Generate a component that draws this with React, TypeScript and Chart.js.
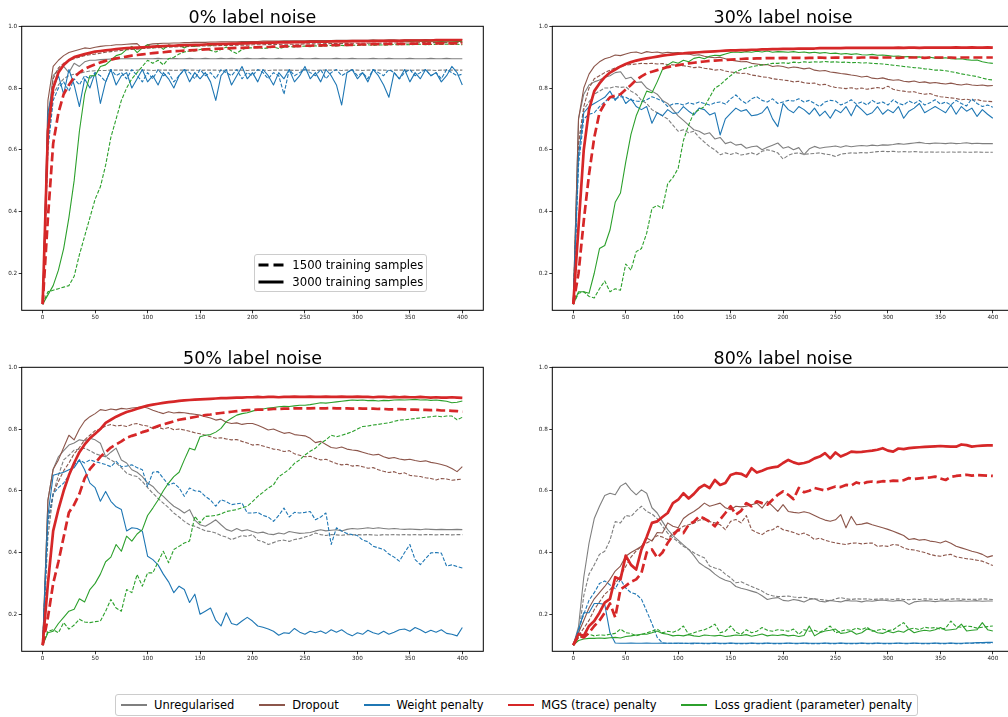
import React, { useEffect, useRef } from "react";
import { Chart, registerables } from "chart.js";

Chart.register(...registerables);

// ---------- labels ----------
const panelTitles = ["0% label noise", "30% label noise", "50% label noise", "80% label noise"];
const methodNames = ["Unregularised", "Dropout", "Weight penalty", "MGS (trace) penalty", "Loss gradient (parameter) penalty"];
const methodColors = ["#7f7f7f", "#8c564b", "#1f77b4", "#d62728", "#2ca02c"];
const sampleLabels = ["1500 training samples", "3000 training samples"];
const xTicks = [0, 50, 100, 150, 200, 250, 300, 350, 400];
const yTicks = [0.2, 0.4, 0.6, 0.8, 1.0];
const yTickLabels = ["0.2", "0.4", "0.6", "0.8", "1.0"];

const epochs = [
  0, 5, 10, 15, 20, 25, 30, 35, 40, 45,
  50, 55, 60, 65, 70, 75, 80, 85, 90, 95,
  100, 105, 110, 115, 120, 125, 130, 135, 140, 145,
  150, 155, 160, 165, 170, 175, 180, 185, 190, 195,
  200, 205, 210, 215, 220, 225, 230, 235, 240, 245,
  250, 255, 260, 265, 270, 275, 280, 285, 290, 295,
  300, 305, 310, 315, 320, 325, 330, 335, 340, 345,
  350, 355, 360, 365, 370, 375, 380, 385, 390, 395,
  400,
];

// ---------- 0% label noise ----------
const p0_unreg_3000 = [
  0.10, 0.70, 0.84, 0.86, 0.87, 0.85, 0.88, 0.87, 0.885, 0.89,
  0.89, 0.892, 0.893, 0.894, 0.894, 0.895, 0.895, 0.895, 0.895, 0.895,
  0.895, 0.895, 0.896, 0.895, 0.895, 0.896, 0.895, 0.895, 0.896, 0.895,
  0.895, 0.896, 0.895, 0.895, 0.896, 0.895, 0.896, 0.895, 0.895, 0.896,
  0.895, 0.895, 0.896, 0.895, 0.895, 0.896, 0.895, 0.895, 0.895, 0.896,
  0.895, 0.895, 0.896, 0.895, 0.895, 0.895, 0.896, 0.895, 0.895, 0.896,
  0.895, 0.895, 0.895, 0.896, 0.895, 0.895, 0.896, 0.895, 0.895, 0.895,
  0.896, 0.895, 0.895, 0.895, 0.896, 0.895, 0.895, 0.896, 0.895, 0.895,
  0.895,
];
const p0_unreg_1500 = [
  0.10, 0.62, 0.78, 0.81, 0.83, 0.84, 0.845, 0.848, 0.852, 0.855,
  0.856, 0.857, 0.857, 0.858, 0.858, 0.858, 0.858, 0.857, 0.858, 0.858,
  0.858, 0.857, 0.858, 0.858, 0.858, 0.857, 0.858, 0.858, 0.858, 0.858,
  0.857, 0.858, 0.858, 0.858, 0.857, 0.858, 0.858, 0.858, 0.858, 0.857,
  0.858, 0.858, 0.858, 0.857, 0.858, 0.858, 0.858, 0.858, 0.857, 0.858,
  0.858, 0.858, 0.857, 0.858, 0.858, 0.858, 0.858, 0.857, 0.858, 0.858,
  0.858, 0.857, 0.858, 0.858, 0.858, 0.858, 0.857, 0.858, 0.858, 0.858,
  0.857, 0.858, 0.858, 0.858, 0.858, 0.857, 0.858, 0.858, 0.858, 0.858,
  0.858,
];
const p0_drop_3000 = [
  0.10, 0.76, 0.87, 0.89, 0.905, 0.915, 0.92, 0.925, 0.93, 0.928,
  0.932, 0.935, 0.937, 0.938, 0.94, 0.94, 0.942, 0.943, 0.944, 0.928,
  0.94, 0.943, 0.944, 0.945, 0.945, 0.946, 0.946, 0.947, 0.947, 0.948,
  0.948, 0.948, 0.949, 0.949, 0.95, 0.95, 0.95, 0.95, 0.951, 0.951,
  0.951, 0.951, 0.952, 0.952, 0.952, 0.952, 0.953, 0.953, 0.953, 0.953,
  0.953, 0.954, 0.954, 0.954, 0.954, 0.954, 0.955, 0.955, 0.955, 0.955,
  0.955, 0.955, 0.955, 0.956, 0.955, 0.955, 0.956, 0.956, 0.955, 0.956,
  0.956, 0.956, 0.956, 0.957, 0.956, 0.956, 0.957, 0.956, 0.957, 0.957,
  0.957,
];
const p0_drop_1500 = [
  0.10, 0.68, 0.83, 0.865, 0.88, 0.89, 0.895, 0.90, 0.905, 0.908,
  0.91, 0.913, 0.916, 0.918, 0.92, 0.922, 0.924, 0.925, 0.926, 0.928,
  0.929, 0.93, 0.931, 0.932, 0.932, 0.933, 0.934, 0.934, 0.935, 0.935,
  0.936, 0.936, 0.937, 0.937, 0.938, 0.938, 0.938, 0.939, 0.939, 0.939,
  0.94, 0.94, 0.94, 0.941, 0.941, 0.941, 0.942, 0.942, 0.942, 0.942,
  0.943, 0.943, 0.943, 0.943, 0.944, 0.944, 0.944, 0.944, 0.944, 0.945,
  0.945, 0.945, 0.945, 0.945, 0.945, 0.946, 0.946, 0.946, 0.946, 0.946,
  0.946, 0.946, 0.947, 0.947, 0.947, 0.947, 0.947, 0.947, 0.947, 0.947,
  0.947,
];
const p0_wp_3000 = [
  0.10, 0.72, 0.80, 0.84, 0.78, 0.86, 0.81, 0.74, 0.83, 0.80,
  0.85, 0.75, 0.82, 0.86, 0.81, 0.84, 0.85, 0.80, 0.83, 0.86,
  0.82, 0.84, 0.81, 0.85, 0.83, 0.80, 0.84, 0.86, 0.82, 0.85,
  0.83, 0.85, 0.82, 0.76, 0.84, 0.86, 0.81, 0.84, 0.87, 0.83,
  0.85, 0.82, 0.86, 0.84, 0.81, 0.85, 0.83, 0.86, 0.82, 0.84,
  0.87, 0.83, 0.85, 0.82, 0.86, 0.84, 0.81, 0.745, 0.85, 0.86,
  0.83, 0.85, 0.82, 0.86, 0.84, 0.81, 0.77, 0.85, 0.83, 0.86,
  0.82, 0.85, 0.83, 0.86, 0.84, 0.85, 0.82, 0.84, 0.87, 0.85,
  0.81,
];
const p0_wp_1500 = [
  0.10, 0.60, 0.76, 0.80, 0.82, 0.79, 0.83, 0.81, 0.84, 0.83,
  0.85, 0.84, 0.82, 0.86, 0.84, 0.85, 0.83, 0.86, 0.84, 0.82,
  0.85, 0.83, 0.86, 0.84, 0.85, 0.82, 0.84, 0.86, 0.85, 0.83,
  0.86, 0.84, 0.85, 0.83, 0.86, 0.85, 0.84, 0.86, 0.83, 0.85,
  0.84, 0.86, 0.85, 0.83, 0.85, 0.84, 0.78, 0.86, 0.84, 0.85,
  0.86, 0.85, 0.84, 0.86, 0.83, 0.85, 0.86, 0.84, 0.85, 0.86,
  0.84, 0.85, 0.83, 0.86, 0.85, 0.84, 0.86, 0.85, 0.83, 0.85,
  0.86, 0.84, 0.85, 0.86, 0.84, 0.85, 0.83, 0.86, 0.85, 0.84,
  0.845,
];
const p0_mgs_3000 = [
  0.10, 0.66, 0.80, 0.85, 0.875, 0.89, 0.90, 0.905, 0.91, 0.914,
  0.918, 0.92, 0.922, 0.924, 0.926, 0.928, 0.929, 0.93, 0.931, 0.932,
  0.933, 0.934, 0.935, 0.936, 0.937, 0.937, 0.938, 0.939, 0.939, 0.94,
  0.94, 0.941, 0.942, 0.942, 0.943, 0.943, 0.944, 0.944, 0.945, 0.945,
  0.946, 0.946, 0.946, 0.947, 0.947, 0.948, 0.948, 0.948, 0.949, 0.949,
  0.949, 0.95, 0.95, 0.95, 0.95, 0.951, 0.951, 0.951, 0.951, 0.952,
  0.952, 0.952, 0.952, 0.952, 0.953, 0.953, 0.953, 0.953, 0.953, 0.954,
  0.954, 0.954, 0.954, 0.954, 0.954, 0.955, 0.955, 0.955, 0.955, 0.955,
  0.955,
];
const p0_mgs_1500 = [
  0.10, 0.38, 0.62, 0.72, 0.78, 0.81, 0.835, 0.85, 0.862, 0.87,
  0.877, 0.883, 0.888, 0.892, 0.896, 0.899, 0.902, 0.905, 0.907, 0.909,
  0.911, 0.913, 0.915, 0.916, 0.918, 0.919, 0.92, 0.921, 0.922, 0.923,
  0.924, 0.925, 0.926, 0.927, 0.928, 0.928, 0.929, 0.93, 0.93, 0.931,
  0.932, 0.932, 0.933, 0.933, 0.934, 0.934, 0.935, 0.935, 0.936, 0.936,
  0.937, 0.937, 0.938, 0.938, 0.938, 0.939, 0.939, 0.94, 0.94, 0.94,
  0.941, 0.941, 0.941, 0.942, 0.942, 0.942, 0.943, 0.943, 0.943, 0.943,
  0.944, 0.944, 0.944, 0.944, 0.944, 0.945, 0.945, 0.945, 0.945, 0.945,
  0.945,
];
const p0_lg_3000 = [
  0.10, 0.13, 0.16, 0.21, 0.28, 0.38, 0.50, 0.66, 0.78, 0.84,
  0.84, 0.87, 0.875, 0.89, 0.905, 0.91, 0.925, 0.935, 0.915, 0.93,
  0.94, 0.93, 0.94, 0.925, 0.94, 0.935, 0.94, 0.93, 0.94, 0.935,
  0.94, 0.942, 0.937, 0.943, 0.94, 0.944, 0.942, 0.945, 0.943, 0.946,
  0.945, 0.947, 0.946, 0.948, 0.947, 0.948, 0.949, 0.948, 0.95, 0.949,
  0.95, 0.95, 0.951, 0.95, 0.951, 0.95, 0.951, 0.951, 0.95, 0.951,
  0.951, 0.952, 0.951, 0.951, 0.952, 0.951, 0.952, 0.951, 0.952, 0.952,
  0.951, 0.952, 0.952, 0.951, 0.952, 0.952, 0.951, 0.952, 0.952, 0.951,
  0.951,
];
const p0_lg_1500 = [
  0.10, 0.14, 0.145, 0.15, 0.155, 0.16, 0.19, 0.26, 0.32, 0.38,
  0.44, 0.48, 0.55, 0.64, 0.70, 0.76, 0.80, 0.83, 0.85, 0.87,
  0.89, 0.88, 0.89, 0.875, 0.895, 0.90, 0.91, 0.917, 0.92, 0.92,
  0.925, 0.928, 0.922, 0.917, 0.925, 0.933, 0.92, 0.912, 0.925, 0.93,
  0.93, 0.932, 0.928, 0.93, 0.933, 0.928, 0.932, 0.935, 0.933, 0.935,
  0.936, 0.934, 0.937, 0.935, 0.937, 0.938, 0.936, 0.938, 0.937, 0.939,
  0.938, 0.939, 0.94, 0.938, 0.94, 0.939, 0.94, 0.941, 0.94, 0.941,
  0.94, 0.941, 0.942, 0.94, 0.941, 0.942, 0.941, 0.942, 0.941, 0.942,
  0.94,
];

// ---------- 30% label noise ----------
const p1_unreg_3000 = [
  0.10, 0.70, 0.78, 0.81, 0.82, 0.826, 0.835, 0.84, 0.85, 0.853,
  0.83, 0.835, 0.818, 0.82, 0.80, 0.79, 0.78, 0.76, 0.75, 0.73,
  0.71, 0.695, 0.68, 0.665, 0.66, 0.65, 0.655, 0.635, 0.64, 0.62,
  0.625, 0.615, 0.618, 0.605, 0.61, 0.612, 0.60, 0.608, 0.615, 0.622,
  0.605, 0.61, 0.60, 0.607, 0.584, 0.603, 0.611, 0.605, 0.608, 0.61,
  0.612, 0.608, 0.613, 0.61, 0.612, 0.614, 0.612, 0.615, 0.613, 0.616,
  0.615, 0.617, 0.62, 0.618, 0.62, 0.622, 0.624, 0.621, 0.62, 0.622,
  0.621, 0.62, 0.622, 0.62, 0.621, 0.623, 0.62, 0.621, 0.62, 0.62,
  0.62,
];
const p1_unreg_1500 = [
  0.10, 0.62, 0.73, 0.755, 0.78, 0.79, 0.80, 0.80, 0.805, 0.802,
  0.804, 0.79, 0.78, 0.76, 0.75, 0.73, 0.72, 0.71, 0.70, 0.68,
  0.66, 0.665, 0.655, 0.66, 0.64, 0.625, 0.61, 0.60, 0.584, 0.59,
  0.585, 0.59, 0.583, 0.586, 0.59, 0.584, 0.595, 0.60, 0.596, 0.59,
  0.57, 0.582, 0.588, 0.59, 0.585, 0.587, 0.588, 0.59, 0.586, 0.584,
  0.578, 0.586, 0.588, 0.59, 0.589, 0.591, 0.59, 0.592, 0.594, 0.595,
  0.594, 0.595, 0.593, 0.594, 0.593, 0.594, 0.593, 0.592, 0.593, 0.592,
  0.593, 0.592, 0.593, 0.592, 0.593, 0.592, 0.592, 0.593, 0.592, 0.592,
  0.592,
];
const p1_drop_3000 = [
  0.10, 0.70, 0.80, 0.845, 0.87, 0.885, 0.895, 0.90, 0.907, 0.905,
  0.91, 0.915, 0.917, 0.912, 0.918, 0.915, 0.917, 0.913, 0.916, 0.914,
  0.915, 0.912, 0.91, 0.906, 0.908, 0.903, 0.90, 0.898, 0.90, 0.895,
  0.89, 0.888, 0.885, 0.886, 0.88, 0.878, 0.875, 0.876, 0.87, 0.872,
  0.87, 0.865, 0.868, 0.866, 0.862, 0.865, 0.858, 0.855, 0.857, 0.852,
  0.85, 0.847, 0.845, 0.842, 0.84, 0.836, 0.838, 0.832, 0.83, 0.833,
  0.828, 0.825, 0.827, 0.822, 0.82, 0.823, 0.818, 0.82, 0.816, 0.818,
  0.815, 0.813, 0.816, 0.812, 0.81, 0.813, 0.81, 0.808, 0.81, 0.807,
  0.808,
];
const p1_drop_1500 = [
  0.10, 0.62, 0.74, 0.80, 0.83, 0.84, 0.85, 0.858, 0.865, 0.87,
  0.874, 0.876, 0.878, 0.88, 0.879, 0.88, 0.878, 0.879, 0.876, 0.875,
  0.874, 0.872, 0.87, 0.866, 0.868, 0.864, 0.862, 0.858, 0.86, 0.855,
  0.852, 0.85, 0.847, 0.848, 0.842, 0.84, 0.836, 0.835, 0.83, 0.828,
  0.826, 0.824, 0.82, 0.822, 0.817, 0.815, 0.816, 0.81, 0.812, 0.806,
  0.802, 0.80, 0.798, 0.801, 0.797, 0.80, 0.796, 0.799, 0.802, 0.798,
  0.806, 0.796, 0.792, 0.79, 0.787, 0.788, 0.783, 0.78, 0.782, 0.776,
  0.772, 0.77, 0.768, 0.766, 0.762, 0.764, 0.76, 0.763, 0.758, 0.757,
  0.756,
];
const p1_wp_3000 = [
  0.10, 0.58, 0.72, 0.74, 0.75, 0.76, 0.77, 0.79, 0.76, 0.783,
  0.75, 0.765, 0.74, 0.73, 0.74, 0.686, 0.72, 0.71, 0.73, 0.718,
  0.72, 0.74, 0.725, 0.713, 0.735, 0.73, 0.713, 0.72, 0.648, 0.70,
  0.718, 0.735, 0.725, 0.73, 0.71, 0.713, 0.72, 0.74, 0.70, 0.675,
  0.75, 0.73, 0.72, 0.74, 0.73, 0.715, 0.735, 0.71, 0.725, 0.702,
  0.73, 0.72, 0.74, 0.71, 0.745, 0.73, 0.713, 0.72, 0.74, 0.715,
  0.73, 0.72, 0.74, 0.702, 0.725, 0.735, 0.75, 0.72, 0.73, 0.74,
  0.73, 0.72, 0.745, 0.715, 0.74, 0.725, 0.735, 0.708, 0.73, 0.715,
  0.702,
];
const p1_wp_1500 = [
  0.10, 0.55, 0.70, 0.715, 0.72, 0.74, 0.755, 0.77, 0.765, 0.772,
  0.77, 0.761, 0.758, 0.756, 0.762, 0.772, 0.765, 0.758, 0.74, 0.748,
  0.75, 0.745, 0.752, 0.748, 0.755, 0.75, 0.745, 0.752, 0.755, 0.748,
  0.765, 0.778, 0.76, 0.75, 0.765, 0.772, 0.76, 0.755, 0.765, 0.75,
  0.755, 0.76, 0.758, 0.765, 0.755, 0.76, 0.75, 0.74, 0.755, 0.76,
  0.758, 0.745, 0.752, 0.762, 0.748, 0.755, 0.745, 0.76, 0.75, 0.755,
  0.745, 0.762, 0.75, 0.745, 0.758, 0.75, 0.76, 0.745, 0.752, 0.762,
  0.748, 0.755, 0.745, 0.76, 0.75, 0.742, 0.765, 0.75, 0.74, 0.745,
  0.738,
];
const p1_mgs_3000 = [
  0.10, 0.35, 0.60, 0.73, 0.79, 0.815, 0.835, 0.85, 0.86, 0.87,
  0.878, 0.884, 0.889, 0.893, 0.896, 0.899, 0.902, 0.905, 0.907, 0.909,
  0.911, 0.912, 0.914, 0.915, 0.916, 0.917, 0.918, 0.919, 0.92, 0.921,
  0.922, 0.922, 0.923, 0.923, 0.924, 0.924, 0.925, 0.925, 0.926, 0.926,
  0.927, 0.927, 0.927, 0.928, 0.928, 0.928, 0.928, 0.929, 0.929, 0.929,
  0.929, 0.929, 0.93, 0.93, 0.93, 0.93, 0.93, 0.93, 0.93, 0.93,
  0.93, 0.93, 0.931, 0.93, 0.931, 0.931, 0.93, 0.931, 0.931, 0.931,
  0.931, 0.931, 0.931, 0.932, 0.931, 0.931, 0.932, 0.931, 0.931, 0.932,
  0.931,
];
const p1_mgs_1500 = [
  0.10, 0.20, 0.37, 0.52, 0.64, 0.72, 0.75, 0.77, 0.775, 0.78,
  0.795, 0.81, 0.826, 0.838, 0.848, 0.853, 0.858, 0.863, 0.868, 0.871,
  0.874, 0.877, 0.88, 0.882, 0.884, 0.886, 0.888, 0.889, 0.89, 0.891,
  0.892, 0.893, 0.894, 0.895, 0.895, 0.896, 0.896, 0.897, 0.897, 0.897,
  0.898, 0.897, 0.898, 0.898, 0.897, 0.898, 0.898, 0.899, 0.898, 0.898,
  0.899, 0.898, 0.899, 0.899, 0.898, 0.899, 0.899, 0.899, 0.898, 0.899,
  0.899, 0.899, 0.898, 0.899, 0.899, 0.899, 0.899, 0.898, 0.899, 0.899,
  0.899, 0.899, 0.899, 0.898, 0.899, 0.899, 0.899, 0.899, 0.899, 0.899,
  0.899,
];
const p1_lg_3000 = [
  0.10, 0.14, 0.14, 0.135, 0.20, 0.28, 0.29, 0.34, 0.43, 0.46,
  0.56, 0.65, 0.71, 0.75, 0.79, 0.785, 0.82, 0.86, 0.875, 0.885,
  0.88, 0.89, 0.885, 0.896, 0.90, 0.895, 0.903, 0.906, 0.905, 0.91,
  0.915, 0.917, 0.915, 0.918, 0.916, 0.919, 0.917, 0.92, 0.916, 0.918,
  0.917, 0.916, 0.918, 0.915, 0.917, 0.914, 0.916, 0.913, 0.915, 0.912,
  0.913, 0.91, 0.912, 0.909, 0.911, 0.908, 0.907, 0.909, 0.906, 0.907,
  0.905, 0.903, 0.904, 0.901, 0.902, 0.90, 0.901, 0.898, 0.90, 0.897,
  0.896, 0.898, 0.895, 0.894, 0.895, 0.892, 0.89, 0.891, 0.885, 0.882,
  0.88,
];
const p1_lg_1500 = [
  0.10, 0.135, 0.14, 0.125, 0.12, 0.15, 0.175, 0.14, 0.15, 0.145,
  0.23, 0.21, 0.27, 0.28, 0.33, 0.41, 0.42, 0.41, 0.49, 0.51,
  0.54, 0.63, 0.68, 0.72, 0.73, 0.74, 0.77, 0.80, 0.81, 0.826,
  0.84, 0.853, 0.86, 0.865, 0.869, 0.872, 0.875, 0.877, 0.88, 0.88,
  0.882, 0.88, 0.884, 0.882, 0.885, 0.883, 0.885, 0.884, 0.886, 0.884,
  0.885, 0.883, 0.884, 0.882, 0.883, 0.881, 0.882, 0.88, 0.879, 0.878,
  0.876, 0.874, 0.872, 0.87, 0.868, 0.866, 0.865, 0.862, 0.861, 0.858,
  0.858, 0.856, 0.853, 0.85, 0.846, 0.843, 0.84, 0.837, 0.832, 0.828,
  0.826,
];

// ---------- 50% label noise ----------
const p2_unreg_3000 = [
  0.10, 0.57, 0.67, 0.71, 0.73, 0.748, 0.755, 0.765, 0.762, 0.77,
  0.765, 0.754, 0.71, 0.725, 0.738, 0.70, 0.69, 0.668, 0.66, 0.646,
  0.625, 0.614, 0.595, 0.582, 0.565, 0.55, 0.54, 0.528, 0.539, 0.505,
  0.49, 0.485, 0.495, 0.506, 0.49, 0.475, 0.469, 0.478, 0.47, 0.474,
  0.468, 0.463, 0.466, 0.46, 0.458, 0.463, 0.46, 0.468, 0.465, 0.462,
  0.463, 0.465, 0.47, 0.474, 0.47, 0.472, 0.474, 0.47, 0.475, 0.478,
  0.476, 0.478, 0.48, 0.478, 0.48, 0.478, 0.476, 0.478, 0.476, 0.475,
  0.476, 0.475, 0.474, 0.476, 0.475, 0.474, 0.475, 0.474, 0.474, 0.475,
  0.474,
];
const p2_unreg_1500 = [
  0.10, 0.45, 0.59, 0.65, 0.70, 0.715, 0.732, 0.735, 0.738, 0.73,
  0.72, 0.715, 0.71, 0.70, 0.69, 0.675, 0.657, 0.65, 0.646, 0.63,
  0.61, 0.592, 0.575, 0.56, 0.545, 0.528, 0.515, 0.501, 0.49, 0.485,
  0.478, 0.47, 0.468, 0.463, 0.455, 0.45, 0.442, 0.448, 0.455, 0.452,
  0.458, 0.44, 0.435, 0.426, 0.432, 0.438, 0.44, 0.436, 0.442, 0.445,
  0.45, 0.455, 0.463, 0.458, 0.455, 0.458, 0.457, 0.456, 0.458, 0.457,
  0.458, 0.457, 0.458, 0.457, 0.456, 0.458, 0.457, 0.458, 0.457, 0.458,
  0.457, 0.458, 0.457, 0.458, 0.458, 0.457, 0.458, 0.458, 0.457, 0.458,
  0.458,
];
const p2_drop_3000 = [
  0.10, 0.57, 0.67, 0.70, 0.74, 0.78, 0.765, 0.80, 0.826, 0.84,
  0.85, 0.863, 0.86, 0.865, 0.862, 0.867, 0.865, 0.868, 0.87, 0.872,
  0.868, 0.861, 0.855, 0.85, 0.856, 0.852, 0.854, 0.853, 0.85, 0.848,
  0.845, 0.84, 0.836, 0.829, 0.832, 0.822, 0.818, 0.82, 0.815, 0.818,
  0.818, 0.812, 0.805, 0.797, 0.80, 0.793, 0.786, 0.789, 0.782, 0.78,
  0.778, 0.77, 0.756, 0.76, 0.75, 0.74, 0.738, 0.742, 0.735, 0.732,
  0.73, 0.725, 0.72, 0.716, 0.718, 0.71, 0.705, 0.708, 0.703, 0.70,
  0.702, 0.698, 0.695, 0.697, 0.692, 0.689, 0.685, 0.68, 0.672, 0.662,
  0.678,
];
const p2_drop_1500 = [
  0.10, 0.50, 0.59, 0.63, 0.665, 0.69, 0.72, 0.74, 0.765, 0.78,
  0.795, 0.80, 0.81, 0.815, 0.81, 0.812, 0.808, 0.815, 0.818, 0.812,
  0.81, 0.802, 0.806, 0.80, 0.805, 0.798, 0.80, 0.797, 0.793, 0.788,
  0.785, 0.78, 0.775, 0.77, 0.772, 0.768, 0.765, 0.766, 0.76, 0.755,
  0.748, 0.75, 0.745, 0.74, 0.735, 0.733, 0.727, 0.73, 0.72, 0.715,
  0.71, 0.712, 0.705, 0.70, 0.702, 0.695, 0.688, 0.684, 0.686, 0.68,
  0.682, 0.678, 0.673, 0.675, 0.668, 0.663, 0.659, 0.662, 0.655, 0.658,
  0.65, 0.648, 0.646, 0.642, 0.64, 0.635, 0.64, 0.638, 0.634, 0.636,
  0.638,
];
const p2_wp_3000 = [
  0.10, 0.52, 0.65, 0.655, 0.66, 0.668, 0.675, 0.70, 0.668, 0.625,
  0.61, 0.566, 0.598, 0.566, 0.548, 0.539, 0.47, 0.48, 0.478, 0.469,
  0.388, 0.377, 0.36, 0.33, 0.305, 0.27, 0.291, 0.28, 0.238, 0.265,
  0.20, 0.21, 0.22, 0.18, 0.162, 0.205, 0.17, 0.165, 0.178, 0.19,
  0.178, 0.162, 0.158, 0.152, 0.145, 0.132, 0.14, 0.138, 0.154, 0.142,
  0.135, 0.145, 0.14, 0.146, 0.138, 0.15, 0.142, 0.15, 0.138, 0.13,
  0.14, 0.135, 0.148, 0.14, 0.135, 0.145, 0.135, 0.142, 0.15, 0.152,
  0.145, 0.157, 0.15, 0.14, 0.148, 0.142, 0.15, 0.138, 0.135, 0.13,
  0.157,
];
const p2_wp_1500 = [
  0.10, 0.50, 0.59, 0.61, 0.625, 0.65, 0.684, 0.70, 0.69, 0.70,
  0.695, 0.69, 0.685, 0.678, 0.695, 0.678, 0.68, 0.684, 0.675, 0.668,
  0.614, 0.66, 0.662, 0.64, 0.619, 0.625, 0.61, 0.582, 0.609, 0.60,
  0.598, 0.582, 0.57, 0.55, 0.571, 0.565, 0.555, 0.558, 0.56, 0.528,
  0.528, 0.53, 0.52, 0.515, 0.501, 0.52, 0.544, 0.515, 0.53, 0.528,
  0.53, 0.533, 0.506, 0.515, 0.528, 0.426, 0.48, 0.47, 0.462, 0.458,
  0.455, 0.44, 0.435, 0.42, 0.415, 0.41, 0.395, 0.385, 0.372, 0.40,
  0.426, 0.377, 0.361, 0.38, 0.399, 0.40, 0.398, 0.356, 0.36, 0.355,
  0.35,
];
const p2_mgs_3000 = [
  0.10, 0.30, 0.47, 0.54, 0.60, 0.65, 0.69, 0.725, 0.75, 0.77,
  0.785, 0.80, 0.82, 0.83, 0.84, 0.848, 0.855, 0.86, 0.866, 0.871,
  0.876, 0.879, 0.882, 0.885, 0.887, 0.889, 0.891, 0.893, 0.894, 0.895,
  0.896, 0.897, 0.898, 0.899, 0.90, 0.90, 0.901, 0.902, 0.902, 0.903,
  0.903, 0.904, 0.903, 0.904, 0.904, 0.903, 0.904, 0.904, 0.905, 0.904,
  0.904, 0.905, 0.904, 0.904, 0.905, 0.904, 0.904, 0.905, 0.904, 0.904,
  0.905, 0.904, 0.904, 0.903, 0.904, 0.904, 0.903, 0.904, 0.903, 0.904,
  0.903, 0.903, 0.904, 0.903, 0.902, 0.903, 0.902, 0.902, 0.903, 0.902,
  0.901,
];
const p2_mgs_1500 = [
  0.10, 0.19, 0.30, 0.37, 0.45, 0.53, 0.555, 0.59, 0.64, 0.67,
  0.69, 0.71, 0.725, 0.74, 0.75, 0.76, 0.772, 0.778, 0.783, 0.79,
  0.795, 0.803, 0.81, 0.815, 0.82, 0.825, 0.83, 0.833, 0.836, 0.839,
  0.842, 0.845, 0.847, 0.85, 0.852, 0.854, 0.856, 0.858, 0.86, 0.861,
  0.862, 0.863, 0.863, 0.864, 0.865, 0.865, 0.866, 0.866, 0.867, 0.867,
  0.867, 0.867, 0.868, 0.867, 0.867, 0.868, 0.867, 0.867, 0.867, 0.866,
  0.867, 0.866, 0.866, 0.866, 0.865, 0.865, 0.864, 0.864, 0.865, 0.864,
  0.863, 0.863, 0.862, 0.862, 0.861, 0.862, 0.86, 0.86, 0.859, 0.858,
  0.856,
];
const p2_lg_3000 = [
  0.10, 0.14, 0.145, 0.17, 0.19, 0.21, 0.216, 0.25, 0.24, 0.28,
  0.30, 0.33, 0.37, 0.385, 0.426, 0.404, 0.453, 0.437, 0.46, 0.474,
  0.52, 0.544, 0.57, 0.60, 0.625, 0.646, 0.66, 0.70, 0.738, 0.732,
  0.775, 0.78, 0.782, 0.79, 0.802, 0.824, 0.835, 0.845, 0.85, 0.853,
  0.858, 0.863, 0.865, 0.868, 0.87, 0.872, 0.874, 0.873, 0.875, 0.877,
  0.877, 0.879, 0.882, 0.885, 0.884, 0.886, 0.888, 0.89, 0.892, 0.894,
  0.893, 0.894, 0.892, 0.893, 0.891, 0.893, 0.892, 0.894, 0.895, 0.894,
  0.895, 0.896, 0.894, 0.895, 0.893, 0.894, 0.892, 0.89, 0.885, 0.887,
  0.891,
];
const p2_lg_1500 = [
  0.10, 0.145, 0.15, 0.14, 0.173, 0.152, 0.165, 0.184, 0.175, 0.173,
  0.176, 0.178, 0.21, 0.248, 0.22, 0.21, 0.28, 0.27, 0.329, 0.291,
  0.334, 0.334, 0.37, 0.404, 0.367, 0.41, 0.42, 0.431, 0.437, 0.517,
  0.496, 0.517, 0.518, 0.52, 0.525, 0.533, 0.536, 0.539, 0.545, 0.55,
  0.565, 0.582, 0.595, 0.609, 0.619, 0.646, 0.657, 0.67, 0.689, 0.70,
  0.716, 0.728, 0.738, 0.754, 0.765, 0.78, 0.775, 0.78, 0.785, 0.791,
  0.80, 0.808, 0.81, 0.813, 0.815, 0.818, 0.82, 0.825, 0.829, 0.83,
  0.832, 0.834, 0.836, 0.838, 0.84, 0.842, 0.84, 0.842, 0.842, 0.83,
  0.838,
];

// ---------- 80% label noise ----------
const p3_unreg_3000 = [
  0.10, 0.16, 0.32, 0.43, 0.51, 0.55, 0.585, 0.592, 0.587, 0.615,
  0.625, 0.603, 0.587, 0.603, 0.592, 0.545, 0.528, 0.50, 0.474, 0.455,
  0.44, 0.425, 0.41, 0.39, 0.367, 0.355, 0.345, 0.33, 0.318, 0.31,
  0.305, 0.29, 0.284, 0.28, 0.275, 0.27, 0.26, 0.248, 0.252, 0.254,
  0.245, 0.243, 0.248, 0.245, 0.24, 0.248, 0.25, 0.242, 0.24, 0.245,
  0.242, 0.24, 0.245, 0.243, 0.243, 0.24, 0.244, 0.242, 0.245, 0.246,
  0.244, 0.242, 0.245, 0.243, 0.232, 0.24, 0.242, 0.244, 0.243, 0.241,
  0.243, 0.244, 0.242, 0.243, 0.244, 0.242, 0.243, 0.244, 0.242, 0.243,
  0.243,
];
const p3_unreg_1500 = [
  0.10, 0.13, 0.26, 0.33, 0.36, 0.394, 0.404, 0.44, 0.50, 0.496,
  0.52, 0.517, 0.535, 0.55, 0.533, 0.525, 0.51, 0.485, 0.463, 0.447,
  0.435, 0.42, 0.41, 0.399, 0.39, 0.383, 0.356, 0.35, 0.345, 0.33,
  0.318, 0.302, 0.305, 0.297, 0.29, 0.283, 0.275, 0.265, 0.26, 0.257,
  0.258, 0.259, 0.256, 0.254, 0.255, 0.252, 0.25, 0.248, 0.246, 0.243,
  0.25, 0.254, 0.25, 0.248, 0.25, 0.249, 0.25, 0.248, 0.249, 0.25,
  0.249, 0.248, 0.25, 0.248, 0.247, 0.249, 0.248, 0.25, 0.249, 0.248,
  0.249, 0.248, 0.249, 0.25, 0.249, 0.248, 0.249, 0.248, 0.25, 0.249,
  0.248,
];
const p3_drop_3000 = [
  0.10, 0.14, 0.18, 0.22, 0.25, 0.27, 0.29, 0.313, 0.34, 0.356,
  0.388, 0.40, 0.41, 0.42, 0.447, 0.437, 0.465, 0.463, 0.496, 0.485,
  0.48, 0.51, 0.523, 0.533, 0.545, 0.56, 0.55, 0.555, 0.56, 0.545,
  0.539, 0.55, 0.548, 0.55, 0.555, 0.56, 0.544, 0.566, 0.55, 0.533,
  0.555, 0.533, 0.53, 0.528, 0.532, 0.528, 0.52, 0.512, 0.505, 0.501,
  0.506, 0.523, 0.48, 0.517, 0.49, 0.492, 0.496, 0.49, 0.485, 0.48,
  0.475, 0.469, 0.462, 0.455, 0.442, 0.445, 0.44, 0.442, 0.437, 0.435,
  0.431, 0.437, 0.43, 0.42, 0.415, 0.41, 0.404, 0.40, 0.394, 0.385,
  0.39,
];
const p3_drop_1500 = [
  0.10, 0.13, 0.155, 0.18, 0.215, 0.24, 0.265, 0.28, 0.30, 0.324,
  0.355, 0.385, 0.405, 0.42, 0.431, 0.44, 0.455, 0.45, 0.442, 0.463,
  0.474, 0.485, 0.49, 0.495, 0.505, 0.507, 0.50, 0.496, 0.49, 0.474,
  0.501, 0.507, 0.496, 0.52, 0.474, 0.465, 0.458, 0.47, 0.474, 0.485,
  0.474, 0.47, 0.465, 0.458, 0.463, 0.455, 0.442, 0.447, 0.44, 0.435,
  0.431, 0.428, 0.426, 0.43, 0.431, 0.428, 0.43, 0.431, 0.42, 0.422,
  0.42, 0.426, 0.424, 0.415, 0.41, 0.408, 0.404, 0.40, 0.394, 0.39,
  0.388, 0.392, 0.394, 0.386, 0.383, 0.38, 0.378, 0.375, 0.372, 0.365,
  0.358,
];
const p3_wp_3000 = [
  0.10, 0.15, 0.205, 0.205, 0.235, 0.235, 0.232, 0.14, 0.107, 0.106,
  0.106, 0.107, 0.106, 0.106, 0.107, 0.106, 0.106, 0.107, 0.106, 0.106,
  0.107, 0.106, 0.106, 0.107, 0.106, 0.106, 0.106, 0.107, 0.106, 0.106,
  0.107, 0.106, 0.106, 0.106, 0.107, 0.106, 0.106, 0.107, 0.106, 0.106,
  0.106, 0.107, 0.106, 0.106, 0.107, 0.106, 0.106, 0.106, 0.107, 0.106,
  0.106, 0.107, 0.106, 0.106, 0.106, 0.107, 0.106, 0.106, 0.107, 0.106,
  0.106, 0.106, 0.107, 0.106, 0.106, 0.107, 0.106, 0.106, 0.106, 0.107,
  0.106, 0.106, 0.107, 0.106, 0.106, 0.107, 0.107, 0.108, 0.108, 0.109,
  0.109,
];
const p3_wp_1500 = [
  0.10, 0.15, 0.20, 0.245, 0.27, 0.30, 0.308, 0.295, 0.283, 0.313,
  0.285, 0.27, 0.265, 0.249, 0.21, 0.17, 0.125, 0.107, 0.106, 0.106,
  0.105, 0.106, 0.105, 0.105, 0.106, 0.105, 0.105, 0.106, 0.105, 0.105,
  0.106, 0.105, 0.105, 0.105, 0.106, 0.105, 0.105, 0.106, 0.105, 0.105,
  0.105, 0.106, 0.105, 0.105, 0.106, 0.105, 0.105, 0.105, 0.106, 0.105,
  0.105, 0.106, 0.105, 0.105, 0.105, 0.106, 0.105, 0.105, 0.106, 0.105,
  0.105, 0.105, 0.106, 0.105, 0.105, 0.106, 0.105, 0.105, 0.105, 0.106,
  0.105, 0.105, 0.106, 0.105, 0.105, 0.106, 0.106, 0.107, 0.107, 0.107,
  0.107,
];
const p3_mgs_3000 = [
  0.10, 0.136, 0.13, 0.162, 0.178, 0.205, 0.238, 0.25, 0.32, 0.313,
  0.39, 0.36, 0.345, 0.41, 0.45, 0.496, 0.501, 0.515, 0.528, 0.56,
  0.571, 0.592, 0.575, 0.59, 0.609, 0.619, 0.609, 0.635, 0.619, 0.625,
  0.651, 0.657, 0.655, 0.646, 0.673, 0.659, 0.665, 0.672, 0.676, 0.678,
  0.69, 0.70, 0.692, 0.687, 0.69, 0.695, 0.705, 0.711, 0.722, 0.705,
  0.724, 0.711, 0.718, 0.727, 0.725, 0.726, 0.728, 0.73, 0.733, 0.738,
  0.73, 0.727, 0.737, 0.735, 0.738, 0.74, 0.741, 0.742, 0.743, 0.744,
  0.745, 0.744, 0.743, 0.743, 0.75, 0.748, 0.743, 0.745, 0.746, 0.747,
  0.747,
];
const p3_mgs_1500 = [
  0.10, 0.13, 0.125, 0.14, 0.162, 0.18, 0.205, 0.235, 0.19, 0.281,
  0.292, 0.305, 0.313, 0.334, 0.40, 0.41, 0.383, 0.40, 0.431, 0.455,
  0.474, 0.463, 0.49, 0.50, 0.517, 0.51, 0.50, 0.485, 0.507, 0.528,
  0.55, 0.523, 0.535, 0.56, 0.55, 0.566, 0.56, 0.555, 0.571, 0.587,
  0.598, 0.587, 0.573, 0.609, 0.595, 0.60, 0.609, 0.605, 0.601, 0.608,
  0.614, 0.612, 0.619, 0.617, 0.627, 0.622, 0.628, 0.63, 0.628, 0.631,
  0.63, 0.633, 0.632, 0.634, 0.641, 0.638, 0.64, 0.642, 0.643, 0.646,
  0.64, 0.635, 0.645, 0.648, 0.65, 0.652, 0.649, 0.651, 0.65, 0.649,
  0.648,
];
const p3_lg_3000 = [
  0.10, 0.115, 0.12, 0.122, 0.122, 0.123, 0.122, 0.124, 0.125, 0.123,
  0.128, 0.13, 0.133, 0.135, 0.135, 0.14, 0.146, 0.138, 0.135, 0.13,
  0.132, 0.13, 0.134, 0.13, 0.128, 0.133, 0.131, 0.13, 0.132, 0.128,
  0.13, 0.133, 0.131, 0.134, 0.129, 0.132, 0.136, 0.13, 0.133, 0.131,
  0.134, 0.13, 0.132, 0.128, 0.131, 0.162, 0.13, 0.14, 0.146, 0.148,
  0.152, 0.138, 0.14, 0.146, 0.135, 0.14, 0.152, 0.148, 0.14, 0.138,
  0.145, 0.14, 0.146, 0.142, 0.152, 0.14, 0.145, 0.148, 0.146, 0.15,
  0.157, 0.148, 0.15, 0.152, 0.168, 0.146, 0.148, 0.15, 0.173, 0.15,
  0.146,
];
const p3_lg_1500 = [
  0.10, 0.125, 0.13, 0.135, 0.13, 0.133, 0.132, 0.135, 0.138, 0.152,
  0.14, 0.138, 0.13, 0.135, 0.14, 0.145, 0.152, 0.14, 0.145, 0.142,
  0.148, 0.162, 0.135, 0.14, 0.146, 0.15, 0.157, 0.168, 0.14, 0.145,
  0.162, 0.142, 0.135, 0.15, 0.14, 0.145, 0.157, 0.148, 0.145, 0.15,
  0.148, 0.145, 0.152, 0.135, 0.15, 0.145, 0.148, 0.142, 0.15, 0.162,
  0.14, 0.145, 0.15, 0.148, 0.155, 0.15, 0.158, 0.145, 0.148, 0.152,
  0.147, 0.15, 0.162, 0.173, 0.152, 0.155, 0.15, 0.158, 0.155, 0.157,
  0.152, 0.155, 0.178, 0.16, 0.158, 0.162, 0.16, 0.155, 0.158, 0.16,
  0.162,
];

// per panel, per method (legend order): [1500 samples, 3000 samples]
const panelData = [
  [[p0_unreg_1500, p0_unreg_3000], [p0_drop_1500, p0_drop_3000], [p0_wp_1500, p0_wp_3000], [p0_mgs_1500, p0_mgs_3000], [p0_lg_1500, p0_lg_3000]],
  [[p1_unreg_1500, p1_unreg_3000], [p1_drop_1500, p1_drop_3000], [p1_wp_1500, p1_wp_3000], [p1_mgs_1500, p1_mgs_3000], [p1_lg_1500, p1_lg_3000]],
  [[p2_unreg_1500, p2_unreg_3000], [p2_drop_1500, p2_drop_3000], [p2_wp_1500, p2_wp_3000], [p2_mgs_1500, p2_mgs_3000], [p2_lg_1500, p2_lg_3000]],
  [[p3_unreg_1500, p3_unreg_3000], [p3_drop_1500, p3_drop_3000], [p3_wp_1500, p3_wp_3000], [p3_mgs_1500, p3_mgs_3000], [p3_lg_1500, p3_lg_3000]],
];

// ---------- layout ----------
const FONT = "'DejaVu Sans', 'Liberation Sans', sans-serif";
const CANVAS_H = 340;
const AREA_TOP = 26.3;
const AREA_BOTTOM = 310.3;
const panelLayout = [
  { left: 0, top: 0, width: 504, axisW: 21.7, areaRight: 483.3 },
  { left: 530, top: 0, width: 500, axisW: 22.3, areaRight: 483.8 },
  { left: 0, top: 340.7, width: 504, axisW: 21.7, areaRight: 483.3 },
  { left: 530, top: 340.7, width: 500, axisW: 22.3, areaRight: 483.8 },
];
// draw order: later entries drawn on top
const drawOrder = [0, 1, 2, 4, 3];

const framePlugin = {
  id: "panelFrame",
  afterDraw(chart: any, _args: any, opts: any) {
    const { ctx, chartArea } = chart;
    ctx.save();
    ctx.strokeStyle = "#000";
    ctx.lineWidth = 1;
    ctx.strokeRect(chartArea.left, chartArea.top, chartArea.right - chartArea.left, chartArea.bottom - chartArea.top);
    ctx.fillStyle = "#000";
    ctx.font = `17.5px ${FONT}`;
    ctx.textAlign = "center";
    ctx.textBaseline = "alphabetic";
    ctx.fillText(opts.text, (chartArea.left + chartArea.right) / 2, chartArea.top - 3);
    ctx.restore();
  },
};

function Panel({ index }: { index: number }) {
  const ref = useRef<HTMLCanvasElement | null>(null);
  const lay = panelLayout[index];
  useEffect(() => {
    if (!ref.current) return;
    const datasets: any[] = [];
    drawOrder.forEach((m, k) => {
      [0, 1].forEach((s) => {
        const isMgs = m === 3;
        const w = isMgs ? 2.7 : 1.1;
        const vals = panelData[index][m][s];
        datasets.push({
          label: `${methodNames[m]} ${sampleLabels[s]}`,
          data: epochs.map((e, i) => ({ x: e, y: vals[i] })),
          borderColor: methodColors[m],
          borderWidth: w,
          borderDash: s === 0 ? (isMgs ? [9, 4] : [3.8, 1.7]) : [],
          borderJoinStyle: "round",
          borderCapStyle: "butt",
          pointRadius: 0,
          fill: false,
          tension: 0,
          order: 100 - (k * 2 + s),
        });
      });
    });
    const tickFont = { family: FONT, size: 5.7 };
    const chart = new Chart(ref.current, {
      type: "line",
      data: { datasets },
      options: {
        responsive: false,
        animation: false,
        events: [],
        layout: { padding: { top: AREA_TOP, right: lay.width - lay.areaRight, left: 0, bottom: 0 } },
        plugins: {
          legend: { display: false },
          tooltip: { enabled: false },
          title: { display: false },
          panelFrame: { text: panelTitles[index] },
        } as any,
        scales: {
          x: {
            type: "linear",
            min: -20,
            max: 420,
            afterBuildTicks: (axis: any) => {
              axis.ticks = xTicks.map((v) => ({ value: v }));
            },
            afterFit: (scale: any) => {
              scale.height = CANVAS_H - AREA_BOTTOM;
            },
            ticks: {
              font: tickFont,
              color: "#222",
              padding: 1,
              maxRotation: 0,
              minRotation: 0,
              autoSkip: false,
              callback: (v: any) => String(v),
            },
            grid: { display: true, drawOnChartArea: false, drawTicks: true, tickLength: 3, color: "#000", lineWidth: 0.8 },
            border: { display: false },
          },
          y: {
            type: "linear",
            min: 0.08,
            max: 1.0,
            afterBuildTicks: (axis: any) => {
              axis.ticks = yTicks.map((v) => ({ value: v }));
            },
            afterFit: (scale: any) => {
              scale.width = lay.axisW;
            },
            ticks: {
              font: tickFont,
              color: "#222",
              padding: 1.5,
              autoSkip: false,
              callback: (v: any) => {
                const i = yTicks.findIndex((t) => Math.abs(t - v) < 1e-9);
                return i >= 0 ? yTickLabels[i] : "";
              },
            },
            grid: { display: true, drawOnChartArea: false, drawTicks: true, tickLength: 3, color: "#000", lineWidth: 0.8 },
            border: { display: false },
          },
        },
      } as any,
      plugins: [framePlugin],
    });
    return () => chart.destroy();
  }, [index]);
  return (
    <canvas
      ref={ref}
      width={lay.width}
      height={CANVAS_H}
      style={{ position: "absolute", left: lay.left, top: lay.top, width: lay.width, height: CANVAS_H }}
    />
  );
}

function SampleLegend() {
  return (
    <div
      style={{
        position: "absolute",
        left: 254.3,
        top: 254,
        width: 173,
        height: 38,
        boxSizing: "border-box",
        border: "1px solid #cccccc",
        borderRadius: 3,
        background: "rgba(255,255,255,0.8)",
        fontFamily: FONT,
        fontSize: 11.7,
        color: "#000",
      }}
    >
      {sampleLabels.map((lab, i) => (
        <div key={lab} style={{ position: "absolute", left: 3, top: i === 0 ? 2 : 18.7, height: 16, display: "flex", alignItems: "center" }}>
          <svg width={26} height={6} style={{ display: "block" }}>
            <line x1={0.5} y1={3} x2={25.5} y2={3} stroke="#000" strokeWidth={3} strokeDasharray={i === 0 ? "10 5" : undefined} />
          </svg>
          <span style={{ marginLeft: 8, whiteSpace: "nowrap", lineHeight: "16px" }}>{lab}</span>
        </div>
      ))}
    </div>
  );
}

function MethodLegend() {
  return (
    <div
      style={{
        position: "absolute",
        left: 115,
        top: 694,
        width: 803,
        height: 22,
        boxSizing: "border-box",
        border: "1px solid #cccccc",
        borderRadius: 3,
        background: "#fff",
        display: "flex",
        alignItems: "center",
        justifyContent: "space-between",
        padding: "0 5px",
        fontFamily: FONT,
        fontSize: 11.5,
        color: "#000",
      }}
    >
      {methodNames.map((n, i) => (
        <div key={n} style={{ display: "flex", alignItems: "center", whiteSpace: "nowrap" }}>
          <div style={{ width: 26, height: 2.5, background: methodColors[i] }} />
          <span style={{ marginLeft: 7 }}>{n}</span>
        </div>
      ))}
    </div>
  );
}

export default function App() {
  return (
    <div
      style={{
        position: "fixed",
        left: 0,
        top: 0,
        width: 1008,
        height: 717,
        overflow: "hidden",
        background: "#ffffff",
      }}
    >
      {[0, 1, 2, 3].map((i) => (
        <Panel key={i} index={i} />
      ))}
      <SampleLegend />
      <MethodLegend />
    </div>
  );
}
